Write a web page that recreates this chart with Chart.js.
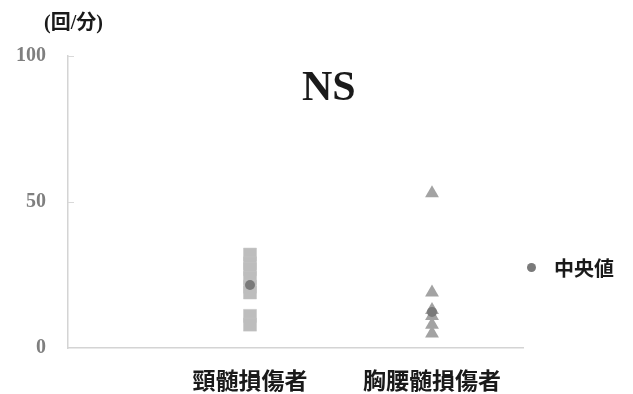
<!DOCTYPE html>
<html>
<head>
<meta charset="utf-8">
<script src="https://cdn.jsdelivr.net/npm/chart.js@4.4.0/dist/chart.umd.min.js"></script>
<style>
  html, body { margin: 0; padding: 0; background: #fff; }
  #wrap { position: relative; width: 633px; height: 394px; }
  .lbl { position: absolute; font-weight: bold; white-space: nowrap; }
  #unit { left: 44px; top: 6px; font: bold 20px "Liberation Serif", "Noto Sans CJK JP", serif; color: #1a1a1a; }
  #ns { left: 302px; top: 62px; font: bold 42px "Liberation Serif", serif; color: #1a1a1a; }
  #legend { left: 527px; top: 253px; font: bold 20px "Noto Sans CJK JP", sans-serif; color: #1a1a1a; }
  #legend i { display: inline-block; width: 9px; height: 9px; border-radius: 50%; background: #7a7a7a; margin-right: 18px; vertical-align: 4px; }
</style>
</head>
<body>
<div id="wrap">
  <canvas id="c" width="633" height="394"></canvas>
  <div class="lbl" id="unit">(回/分)</div>
  <div class="lbl" id="ns">NS</div>
  <div class="lbl" id="legend"><i></i>中央値</div>
</div>
<script>
  // group labels, positioned at x = 1 and x = 2
  const CATEGORIES = ['頸髄損傷者', '胸腰髄損傷者'];
  const Y_TICKS = [0, 50, 100];

  // 頸髄損傷者 (squares) and 胸腰髄損傷者 (triangles), 回/分
  const CERVICAL = [32, 29, 27, 24, 21, 19, 11, 8];
  const THORACOLUMBAR = [53, 19, 13, 11, 8, 5];
  const MEDIANS = [21.6, 12.3];

  function toPoints(x, values) {
    return values.map(v => ({ x: x, y: v }));
  }

  // short tick marks drawn inside the plot, right of the y axis
  const innerTicks = {
    id: 'innerTicks',
    afterDraw(chart) {
      const y = chart.scales.y;
      const ctx = chart.ctx;
      ctx.save();
      ctx.strokeStyle = '#d9d9d9';
      ctx.lineWidth = 1;
      Y_TICKS.slice(1).forEach(v => {
        const py = Math.round(y.getPixelForValue(v)) + 0.5;
        ctx.beginPath();
        ctx.moveTo(y.right, py);
        ctx.lineTo(y.right + 6, py);
        ctx.stroke();
      });
      ctx.restore();
    }
  };

  new Chart(document.getElementById('c'), {
    type: 'scatter',
    data: {
      datasets: [
        {
          label: '中央値',
          data: MEDIANS.map((v, i) => ({ x: i + 1, y: v })),
          pointStyle: 'circle',
          pointRadius: 5,
          backgroundColor: '#7a7a7a',
          borderWidth: 0
        },
        {
          label: CATEGORIES[1],
          data: toPoints(2, THORACOLUMBAR),
          pointStyle: 'triangle',
          pointRadius: 8,
          backgroundColor: '#a3a3a3',
          borderWidth: 0
        },
        {
          label: CATEGORIES[0],
          data: toPoints(1, CERVICAL),
          pointStyle: 'rect',
          pointRadius: 9.2,
          backgroundColor: '#bdbdbd',
          borderColor: '#c4c4c4',
          borderWidth: 0.5
        }
      ]
    },
    options: {
      responsive: false,
      animation: false,
      layout: { padding: { top: 56, right: 110, left: 0, bottom: 0 } },
      plugins: { legend: { display: false }, tooltip: { enabled: false } },
      scales: {
        x: {
          type: 'linear',
          min: 0,
          max: 2.5,
          afterBuildTicks: scale => { scale.ticks = [{ value: 1 }, { value: 2 }]; },
          afterFit: scale => { scale.height = 46; },
          grid: { display: false, drawTicks: false },
          border: { color: '#d4d4d4', width: 1.5 },
          ticks: {
            padding: 18,
            autoSkip: false,
            maxRotation: 0,
            color: '#1a1a1a',
            font: { family: '"Noto Sans CJK JP", sans-serif', size: 23, weight: 'bold' },
            callback: v => CATEGORIES[v - 1] || ''
          }
        },
        y: {
          min: 0,
          max: 100,
          afterBuildTicks: scale => { scale.ticks = Y_TICKS.map(v => ({ value: v })); },
          afterFit: scale => { scale.width = 68; },
          grid: { display: false, drawTicks: false },
          border: { color: '#d4d4d4', width: 1.5 },
          ticks: {
            padding: 22,
            color: '#7f7f7f',
            font: { family: '"Liberation Serif", serif', size: 20, weight: 'bold' }
          }
        }
      }
    },
    plugins: [innerTicks]
  });
</script>
</body>
</html>
